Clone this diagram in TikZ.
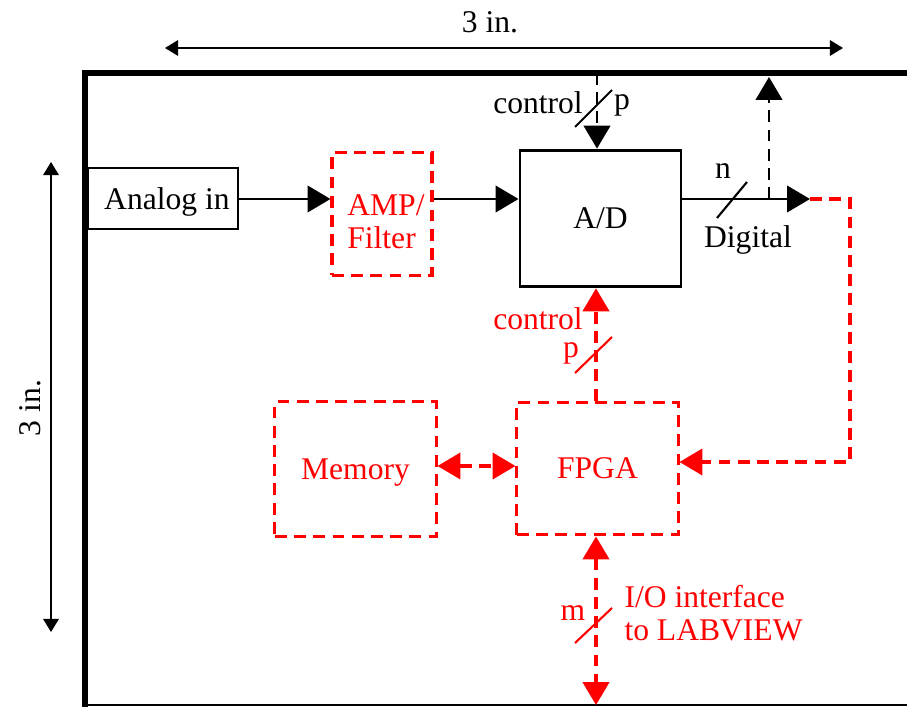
\documentclass[tikz,border=0pt]{standalone}
\usepackage{fontspec}
\setmainfont{Liberation Serif}
\usepackage{xcolor}
\usetikzlibrary{positioning,calc,arrows.meta}

\tikzset{
    blk/.style={draw, line width=1.1pt, inner sep=0pt, text depth=0pt},
    redblk/.style={draw=red, text=red, line width=1.15pt, dash pattern=on 4.5pt off 2.8pt, inner sep=0pt, text depth=0pt},
    sig/.style={line width=1.1pt, -{Triangle[length=8.7pt,width=10pt]}},
    redsig/.style={sig, draw=red, line width=1.15pt, dash pattern=on 4.5pt off 2.8pt},
    both/.style={{Triangle[length=8.7pt,width=10pt]}-{Triangle[length=8.7pt,width=10pt]}},
    dim/.style={line width=0.45pt, {Triangle[length=5pt,width=6pt]}-{Triangle[length=5pt,width=6pt]}},
    lbl/.style={inner sep=0pt}
}

\begin{document}
\begin{tikzpicture}[x=0.38pt, y=-0.38pt, font=\fontsize{12}{12.5}\selectfont]
    \useasboundingbox (0,0) rectangle (907,707);
    % Board outline
    \draw [line width=2.6pt] (85,707) -- (85,73) -- (907,73);
    \draw [line width=0.5pt] (85,705) -- (907,705);
    % Dimensions
    \coordinate (dl) at (165,48); \coordinate (dr) at (843,48);
    \draw [dim] (dl) -- (dr); \node [lbl] (wlbl) at (490,22) {3 in.};
    \coordinate (dt) at (51,162); \coordinate (db) at (51,632);
    \draw [dim] (dt) -- (db); \node [lbl, rotate=90] (hlbl) at (30,408) {3 in.};
    % Blocks
    \node [blk, minimum width=57pt, minimum height=23.2pt] (analog) at (163,198.5) {\hspace{3pt}Analog in};
    \node [redblk, minimum width=38pt, minimum height=46.4pt,
           label={[lbl, text=red, align=left, xshift=1.5pt, yshift=-3pt]center:{AMP/\\Filter}}] (amp) at (382,214) {};
    \node [blk, minimum width=61.2pt, minimum height=52pt] (ad) at (600.5,218.5) {A/D};
    \node [redblk, minimum width=61.2pt, minimum height=50.5pt] (fpga) at (597.5,468.5) {FPGA};
    \node [redblk, minimum width=61.2pt, minimum height=51pt] (mem) at (355.5,469) {Memory};
    % Signal path
    \coordinate (row) at (0,199);
    \coordinate (out) at (810,199);
    \coordinate (tap) at (769,199); \coordinate (up) at (769,77);
    \draw [sig] (analog.east |- row) -- (amp.west |- row);
    \draw [sig] (amp.east |- row) -- (ad.west |- row);
    \draw [sig] (ad.east |- row) -- (out);
    \draw [sig, dash pattern=on 4.5pt off 2.8pt] (tap) -- (up);
    \draw [line width=0.8pt] (717,218) -- (747,182);
    \node [lbl] (n) at (723,171) {n};
    \node [lbl] (dig) at (748,240) {Digital};
    % Control from top
    \coordinate (ctop) at (597,73);
    \draw [sig, dash pattern=on 4.5pt off 2.8pt] (ctop) -- (ctop |- ad.north);
    \draw [line width=0.8pt] (575,127) -- (612,90);
    \node [lbl] (ctl) at (538,103) {control};
    \node [lbl] (p) at (622,105) {p};
    % FPGA links
    \coordinate (c1) at (850,199); \coordinate (c2) at (850,462);
    \draw [redsig] (out) -- (c1) -- (c2) -- (fpga.east |- c2);
    \draw [redsig] (fpga.north -| 596,0) -- (ad.south -| 596,0);
    \draw [red, line width=0.8pt] (575,373) -- (612,337);
    \node [lbl, text=red] (rctl) at (538,319) {control};
    \node [lbl, text=red] (rp) at (571,353) {p};
    \draw [redsig, both] (mem.east |- 0,466) -- (fpga.west |- 0,466);
    \coordinate (io) at (596,705);
    \draw [redsig, both] (fpga.south -| io) -- (io);
    \draw [red, line width=0.8pt] (575,643) -- (612,608);
    \node [lbl, text=red] (m) at (573,613) {m};
    \node [lbl, text=red, anchor=west, align=left] (iolbl) at (624,613) {I/O interface\\to LABVIEW};
\end{tikzpicture}
\end{document}
